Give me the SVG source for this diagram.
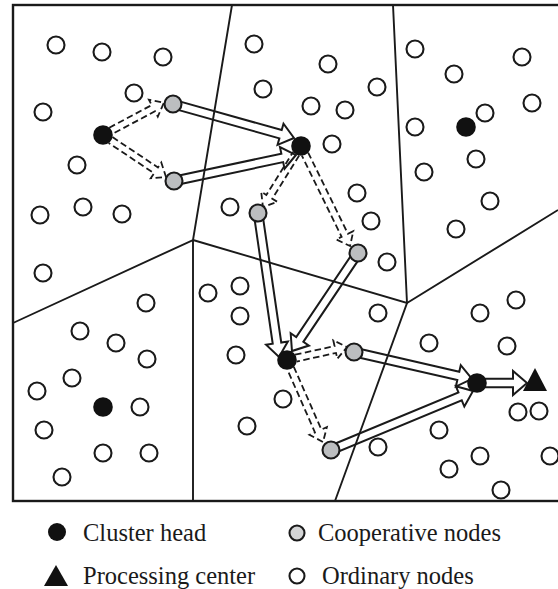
<svg xmlns="http://www.w3.org/2000/svg" width="558" height="589" viewBox="0 0 558 589">
  <style>
    .frame { fill: none; stroke: #1a1a1a; stroke-width: 2.4; }
    .cell { fill: none; stroke: #1a1a1a; stroke-width: 1.9; }
    .ord { fill: #fff; stroke: #1a1a1a; stroke-width: 2.1; }
    .coop { fill: #bcbec0; stroke: #1a1a1a; stroke-width: 2.1; }
    .head { fill: #111; }
    .pc { fill: #111; }
    .hollow { fill: #fff; stroke: #1a1a1a; stroke-width: 2; stroke-linejoin: miter; }
    .dash { fill: none; stroke: #1a1a1a; stroke-width: 1.8; stroke-dasharray: 6.5 3.5; }
    .lbl { font-family: "Liberation Serif", "Times New Roman", serif; font-size: 24.5px; fill: #1a1a1a; }
  </style>

  <rect width="558" height="589" fill="#fff"/>

  <!-- cluster-to-cluster relay and local cooperation links -->
  <g id="connectors">
    <g id="relay">
      <path class="hollow" transform="translate(173 104) rotate(15.70)" d="M0,-4.3H111.7V-11L125.7,0L111.7,11V4.3H0Z"/>
      <path class="hollow" transform="translate(174 181) rotate(-12.03)" d="M0,-4.3H110.7V-11L124.7,0L110.7,11V4.3H0Z"/>
      <path class="hollow" transform="translate(258 213) rotate(81.70)" d="M0,-4.3H131.5V-11L145.5,0L131.5,11V4.3H0Z"/>
      <path class="hollow" transform="translate(358 253) rotate(123.96)" d="M0,-4.3H104.2V-11L118.2,0L104.2,11V4.3H0Z"/>
      <path class="hollow" transform="translate(354 352) rotate(12.89)" d="M0,-4.3H107V-11L121,0L107,11V4.3H0Z"/>
      <path class="hollow" transform="translate(331 450) rotate(-22.56)" d="M0,-4.3H139.8V-11L153.8,0L139.8,11V4.3H0Z"/>
      <path class="hollow" transform="translate(477 383)" d="M0,-4.3H36V-12L50,0L36,12V4.3H0Z"/>
    </g>
    <g id="cooperation">
      <path class="dash" transform="translate(110.9 130.8) rotate(-28.05)" d="M0,-3.5H48.1V-9.5L60.1,0L48.1,9.5V3.5H0"/>
      <path class="dash" transform="translate(110.5 140) rotate(33.69)" d="M0,-3.5H54.7V-9.5L66.7,0L54.7,9.5V3.5H0"/>
      <path class="dash" transform="translate(296.2 153.6) rotate(121.92)" d="M0,-3.5H50.9V-9.5L62.9,0L50.9,9.5V3.5H0"/>
      <path class="dash" transform="translate(305 154.1) rotate(63.90)" d="M0,-3.5H90.4V-9.5L102.4,0L90.4,9.5V3.5H0"/>
      <path class="dash" transform="translate(295.8 358.1) rotate(-12.22)" d="M0,-3.5H40.4V-9.5L52.4,0L40.4,9.5V3.5H0"/>
      <path class="dash" transform="translate(290.6 368.2) rotate(66.30)" d="M0,-3.5H68.6V-9.5L80.6,0L68.6,9.5V3.5H0"/>
    </g>
  </g>

  <!-- sensing field and its cluster cells -->
  <g id="field">
    <rect class="frame" x="13" y="5" width="560" height="496"/>
    <path class="cell" d="M232,5L193,240L13,323"/>
    <path class="cell" d="M193,240V501"/>
    <path class="cell" d="M193,240L407,303L558,210"/>
    <path class="cell" d="M393,5L407,303L335,501"/>
  </g>

  <!-- ordinary nodes -->
  <g id="ordinary">
    <g id="o1"><circle class="ord" cx="56" cy="45" r="8.5"/></g>
    <g id="o2"><circle class="ord" cx="102" cy="52" r="8.5"/></g>
    <g id="o3"><circle class="ord" cx="163" cy="57" r="8.5"/></g>
    <g id="o4"><circle class="ord" cx="134" cy="93" r="8.5"/></g>
    <g id="o5"><circle class="ord" cx="43" cy="112" r="8.5"/></g>
    <g id="o6"><circle class="ord" cx="77" cy="165" r="8.5"/></g>
    <g id="o7"><circle class="ord" cx="40" cy="215" r="8.5"/></g>
    <g id="o8"><circle class="ord" cx="83" cy="207" r="8.5"/></g>
    <g id="o9"><circle class="ord" cx="122" cy="214" r="8.5"/></g>
    <g id="o10"><circle class="ord" cx="254" cy="44" r="8.5"/></g>
    <g id="o11"><circle class="ord" cx="328" cy="64" r="8.5"/></g>
    <g id="o12"><circle class="ord" cx="263" cy="89" r="8.5"/></g>
    <g id="o13"><circle class="ord" cx="377" cy="87" r="8.5"/></g>
    <g id="o14"><circle class="ord" cx="311" cy="106" r="8.5"/></g>
    <g id="o15"><circle class="ord" cx="345" cy="110" r="8.5"/></g>
    <g id="o16"><circle class="ord" cx="332" cy="144" r="8.5"/></g>
    <g id="o17"><circle class="ord" cx="357" cy="193" r="8.5"/></g>
    <g id="o18"><circle class="ord" cx="371" cy="221" r="8.5"/></g>
    <g id="o19"><circle class="ord" cx="230" cy="207" r="8.5"/></g>
    <g id="o20"><circle class="ord" cx="415" cy="49" r="8.5"/></g>
    <g id="o21"><circle class="ord" cx="454" cy="74" r="8.5"/></g>
    <g id="o22"><circle class="ord" cx="522" cy="57" r="8.5"/></g>
    <g id="o23"><circle class="ord" cx="532" cy="103" r="8.5"/></g>
    <g id="o24"><circle class="ord" cx="485" cy="113" r="8.5"/></g>
    <g id="o25"><circle class="ord" cx="415" cy="127" r="8.5"/></g>
    <g id="o26"><circle class="ord" cx="476" cy="159" r="8.5"/></g>
    <g id="o27"><circle class="ord" cx="424" cy="172" r="8.5"/></g>
    <g id="o28"><circle class="ord" cx="490" cy="201" r="8.5"/></g>
    <g id="o29"><circle class="ord" cx="456" cy="229" r="8.5"/></g>
    <g id="o30"><circle class="ord" cx="43" cy="273" r="8.5"/></g>
    <g id="o31"><circle class="ord" cx="146" cy="303" r="8.5"/></g>
    <g id="o32"><circle class="ord" cx="80" cy="331" r="8.5"/></g>
    <g id="o33"><circle class="ord" cx="116" cy="343" r="8.5"/></g>
    <g id="o34"><circle class="ord" cx="147" cy="359" r="8.5"/></g>
    <g id="o35"><circle class="ord" cx="72" cy="378" r="8.5"/></g>
    <g id="o36"><circle class="ord" cx="37" cy="391" r="8.5"/></g>
    <g id="o37"><circle class="ord" cx="140" cy="407" r="8.5"/></g>
    <g id="o38"><circle class="ord" cx="44" cy="430" r="8.5"/></g>
    <g id="o39"><circle class="ord" cx="103" cy="453" r="8.5"/></g>
    <g id="o40"><circle class="ord" cx="149" cy="453" r="8.5"/></g>
    <g id="o41"><circle class="ord" cx="62" cy="477" r="8.5"/></g>
    <g id="o42"><circle class="ord" cx="208" cy="293" r="8.5"/></g>
    <g id="o43"><circle class="ord" cx="240" cy="286" r="8.5"/></g>
    <g id="o44"><circle class="ord" cx="240" cy="316" r="8.5"/></g>
    <g id="o45"><circle class="ord" cx="236" cy="355" r="8.5"/></g>
    <g id="o46"><circle class="ord" cx="283" cy="399" r="8.5"/></g>
    <g id="o47"><circle class="ord" cx="247" cy="426" r="8.5"/></g>
    <g id="o48"><circle class="ord" cx="378" cy="313" r="8.5"/></g>
    <g id="o49"><circle class="ord" cx="387" cy="262" r="8.5"/></g>
    <g id="o50"><circle class="ord" cx="378" cy="447" r="8.5"/></g>
    <g id="o51"><circle class="ord" cx="480" cy="313" r="8.5"/></g>
    <g id="o52"><circle class="ord" cx="516" cy="300" r="8.5"/></g>
    <g id="o53"><circle class="ord" cx="429" cy="343" r="8.5"/></g>
    <g id="o54"><circle class="ord" cx="507" cy="346" r="8.5"/></g>
    <g id="o55"><circle class="ord" cx="518" cy="412" r="8.5"/></g>
    <g id="o56"><circle class="ord" cx="539" cy="411" r="8.5"/></g>
    <g id="o57"><circle class="ord" cx="439" cy="430" r="8.5"/></g>
    <g id="o58"><circle class="ord" cx="480" cy="456" r="8.5"/></g>
    <g id="o59"><circle class="ord" cx="550" cy="456" r="8.5"/></g>
    <g id="o60"><circle class="ord" cx="449" cy="469" r="8.5"/></g>
    <g id="o61"><circle class="ord" cx="501" cy="490" r="8.5"/></g>
  </g>

  <!-- cooperative nodes -->
  <g id="cooperative">
    <g id="c1"><circle class="coop" cx="173" cy="104" r="8.5"/></g>
    <g id="c2"><circle class="coop" cx="174" cy="181" r="8.5"/></g>
    <g id="c3"><circle class="coop" cx="258" cy="213" r="8.5"/></g>
    <g id="c4"><circle class="coop" cx="358" cy="253" r="8.5"/></g>
    <g id="c5"><circle class="coop" cx="354" cy="352" r="8.5"/></g>
    <g id="c6"><circle class="coop" cx="331" cy="450" r="8.5"/></g>
  </g>

  <!-- cluster heads -->
  <g id="heads">
    <g id="h1"><circle class="head" cx="103" cy="135" r="9.8"/></g>
    <g id="h2"><circle class="head" cx="301" cy="146" r="9.8"/></g>
    <g id="h3"><circle class="head" cx="466" cy="127" r="9.8"/></g>
    <g id="h4"><circle class="head" cx="103" cy="407" r="9.8"/></g>
    <g id="h5"><circle class="head" cx="287" cy="360" r="9.8"/></g>
    <g id="h6"><circle class="head" cx="477" cy="383" r="9.8"/></g>
  </g>

  <!-- processing center -->
  <g id="center"><polygon class="pc" points="535,368 547,391 523,391"/></g>

  <!-- legend -->
  <g id="legend">
    <circle class="head" cx="57" cy="532" r="9"/>
    <text class="lbl" x="83" y="541">Cluster head</text>
    <circle class="coop" cx="297" cy="533" r="7.5" style="fill:#d4d5d6"/>
    <text class="lbl" x="318" y="541">Cooperative nodes</text>
    <polygon class="pc" points="56,565 68,586 44,586"/>
    <text class="lbl" x="83" y="584">Processing center</text>
    <circle class="ord" cx="297" cy="576" r="7.5"/>
    <text class="lbl" x="322" y="584">Ordinary nodes</text>
  </g>
</svg>
